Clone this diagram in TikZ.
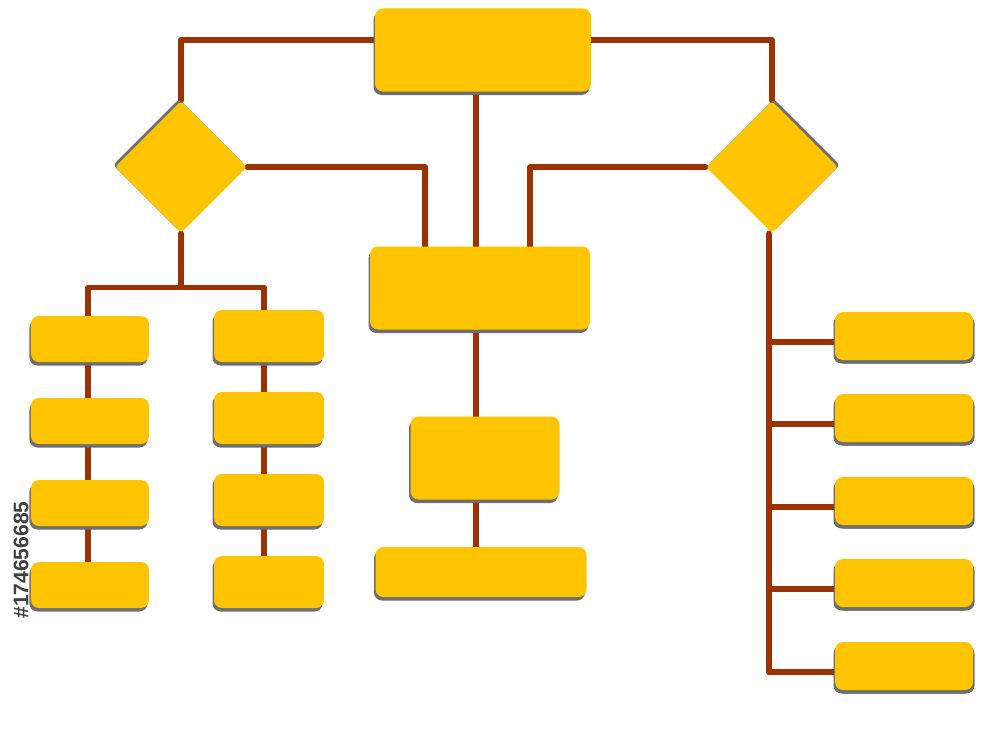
\documentclass[tikz,border=0pt]{standalone}
\usepackage{fontspec}
\setsansfont{Liberation Sans}
\usetikzlibrary{shapes.geometric,shadows,backgrounds}
\definecolor{boxyellow}{HTML}{FFC400}
\definecolor{linkbrown}{HTML}{9A3300}
\definecolor{shadegray}{HTML}{6E6E6E}
\begin{document}
\begin{tikzpicture}[x=0.2mm,y=-0.2mm,
  box/.style={fill=boxyellow,rounded corners=1.6mm,inner sep=0pt,
    drop shadow={shadow xshift=-0.3mm,shadow yshift=-0.7mm,fill=shadegray,opacity=1}},
  rbox/.style={box,minimum width=27.6mm,minimum height=9.6mm,
    drop shadow={shadow xshift=0.3mm,shadow yshift=-0.7mm,fill=shadegray,opacity=1}},
  lbox/.style={box,minimum width=23.6mm,minimum height=9.2mm},
  mbox/.style={box,minimum width=22mm,minimum height=10.4mm},
  decision/.style={diamond,fill=boxyellow,rounded corners=0.7mm,inner sep=0pt,
    minimum width=26.4mm,minimum height=26.4mm},
  link/.style={draw=linkbrown,line width=1.1mm,line cap=round,line join=round}]
\useasboundingbox (0,0) rectangle (1000,750);
% boxes of the middle
\node[box,minimum width=43.2mm,minimum height=16.6mm] (top) at (483,50) {};
\node[box,minimum width=44mm,minimum height=16.6mm] (mid) at (480,288) {};
\node[box,minimum width=29.8mm,minimum height=16.6mm] (ms) at (485,458) {};
\node[box,minimum width=42.2mm,minimum height=10mm] (mb) at (481,572) {};
% decisions
\node[decision,drop shadow={shadow xshift=-0.4mm,shadow yshift=0.4mm,fill=shadegray,opacity=1}] (dl) at (181,167) {};
\node[decision,drop shadow={shadow xshift=0.4mm,shadow yshift=0.4mm,fill=shadegray,opacity=1}] (dr) at (772,167) {};
% columns
\foreach \y [count=\i] in {339,421,503,585}
  \node[lbox] (l\i) at (90,\y) {};
\foreach \y [count=\i] in {336,418,500,582}
  \node[mbox] (m\i) at (269,\y) {};
\foreach \y [count=\i] in {336,418,501,583,666}
  \node[rbox] (r\i) at (904,\y) {};
\coordinate (lsplit) at ([yshift=-10.8mm]dl.south);
\coordinate (spine) at ([xshift=-0.8mm]mid.north);
\begin{scope}[on background layer]
\draw[link] ([yshift=2mm]top.west) -| (dl.north);
\draw[link] ([yshift=2mm]top.east) -| (dr.north);
\draw[link] (spine) -- (spine |- top.south);
\draw[link] (dl.east) -| ([xshift=-11mm]mid.north);
\draw[link] (dr.west) -| ([xshift=10mm]mid.north);
\draw[link] (dl.south) -- (lsplit);
\draw[link] ([xshift=-0.4mm]l1.north) |- (lsplit) -| ([xshift=-1mm]m1.north);
\foreach \i/\j in {1/2,2/3,3/4}{
  \draw[link] ([xshift=-0.4mm]l\i.south) -- ([xshift=-0.4mm]l\j.north);
  \draw[link] ([xshift=-1mm]m\i.south) -- ([xshift=-1mm]m\j.north);
}
\draw[link] (spine |- mid.south) -- (spine |- ms.north);
\draw[link] (spine |- ms.south) -- (spine |- mb.north);
\draw[link] ([xshift=-0.6mm]dr.south) -- ([yshift=-1.2mm,xshift=-0.6mm]r5.west -| dr.south);
\foreach \i in {1,...,5}
  \draw[link] ([yshift=-1.2mm]r\i.west) -- ([yshift=-1.2mm,xshift=-0.6mm]r\i.west -| dr.south);
\end{scope}
\node[rotate=90,text=black!75,font=\sffamily\bfseries\fontsize{12}{14}\selectfont] (stockid) at (21,560) {\#174656685};
\end{tikzpicture}
\end{document}
